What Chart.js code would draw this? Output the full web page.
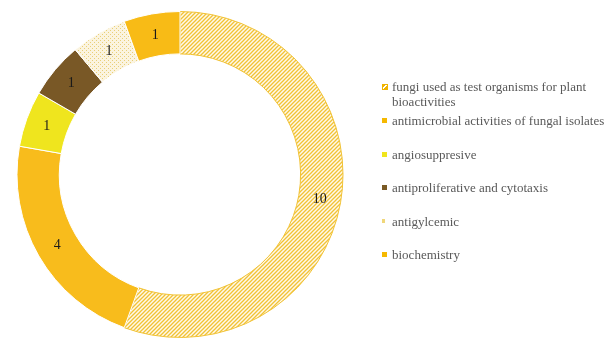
<!DOCTYPE html>
<html>
<head>
<meta charset="utf-8">
<script src="https://cdn.jsdelivr.net/npm/chart.js"></script>
<style>
  html, body { margin: 0; padding: 0; background: #fff; }
  #wrap { position: relative; width: 616px; height: 343px; }
  #myChart { position: absolute; left: 0; top: 0; }
  .item { position: absolute; left: 382px; font-family: "Liberation Serif", "Times New Roman", serif;
          font-size: 13px; line-height: 15px; color: #595959; white-space: nowrap; }
  .box { position: absolute; left: 0; width: 5px; height: 5px; }
  .txt { position: absolute; left: 10px; top: -8px; }
</style>
</head>
<body>
<div id="wrap">
  <canvas id="myChart" width="616" height="343"></canvas>
  <div id="legend"></div>
</div>
<script>
// categories and values
var labels = [
  ['fungi used as test organisms for plant', 'bioactivities'],
  ['antimicrobial activities of fungal isolates'],
  ['angiosuppresive'],
  ['antiproliferative and cytotaxis'],
  ['antigylcemic'],
  ['biochemistry']
]
var counts = [10, 4, 1, 1, 1, 1]

// patterns for the hatched / dotted slices
function stripes(fg, bg){
  var c = document.createElement('canvas')
  c.width = 4; c.height = 4
  var g = c.getContext('2d')
  g.fillStyle = bg; g.fillRect(0, 0, 4, 4)
  g.strokeStyle = fg; g.lineWidth = 1.3
  g.beginPath()
  g.moveTo(-1, 5); g.lineTo(5, -1)
  g.moveTo(-1, 1); g.lineTo(1, -1)
  g.moveTo(3, 5); g.lineTo(5, 3)
  g.stroke()
  return g.createPattern(c, 'repeat')
}
function dots(fg, bg){
  var c = document.createElement('canvas')
  c.width = 4; c.height = 4
  var g = c.getContext('2d')
  g.fillStyle = bg; g.fillRect(0, 0, 4, 4)
  g.fillStyle = fg
  g.fillRect(0, 0, 1, 1); g.fillRect(2, 2, 1, 1)
  return g.createPattern(c, 'repeat')
}

var colors = [
  stripes('#F1C235', '#FFF9EA'),
  '#F8BC1C',
  '#EFE51E',
  '#795826',
  dots('#E9CF78', '#FBF4DF'),
  '#F8BB16'
]
var legendColors = ['#F0B81E', '#F5B800', '#F0E51C', '#7A5A25', '#F0D77A', '#F5B800']
var borders = ['#F1C235', '#ffffff', '#ffffff', '#ffffff', '#ffffff', '#ffffff']

// legend built from the arrays
var legendY = [87, 121, 155, 188, 222, 255]
var lg = document.getElementById('legend')
labels.forEach(function(l, i){
  var d = document.createElement('div')
  d.className = 'item'
  d.style.top = legendY[i] + 'px'
  var b = document.createElement('span')
  b.className = 'box'
  b.style.top = '-3px'
  b.style.background = legendColors[i]
  if (i == 0) {
    b.style.width = '4px'; b.style.height = '4px'
    b.style.border = '1px solid #F0B400'
    b.style.background = 'linear-gradient(135deg, #F0B400 35%, #fff 35%, #fff 55%, #F0B400 55%)'
  }
  if (i == 4) { b.style.width = '3px'; b.style.height = '4px' }
  var t = document.createElement('span')
  t.className = 'txt'
  t.innerHTML = l.join('<br>')
  d.appendChild(b); d.appendChild(t)
  lg.appendChild(d)
})

// value labels in the middle of each slice
var valueLabels = {
  id: 'valueLabels',
  afterDatasetsDraw: function(chart){
    var ctx = chart.ctx
    var meta = chart.getDatasetMeta(0)
    ctx.save()
    ctx.font = '14px "Liberation Serif", serif'
    ctx.fillStyle = '#1a1a1a'
    ctx.textAlign = 'center'
    ctx.textBaseline = 'middle'
    meta.data.forEach(function(arc, i){
      var p = arc.tooltipPosition()
      ctx.fillText(String(counts[i]), p.x, p.y)
    })
    ctx.restore()
  }
}

const ctx = document.getElementById('myChart');

new Chart(ctx, {
  type: 'doughnut',
  data: {
    labels: labels.map(function(l){ return l.join(' ') }),
    datasets: [{
      data: counts,
      backgroundColor: colors,
      borderColor: borders,
      borderWidth: 1
    }]
  },
  options: {
    responsive: false,
    animation: false,
    events: [],
    cutout: '74%',
    layout: { padding: { left: 15, right: 271, top: 11, bottom: 5 } },
    plugins: {
      legend: { display: false },
      tooltip: { enabled: false }
    }
  },
  plugins: [valueLabels]
});
</script>
</body>
</html>
